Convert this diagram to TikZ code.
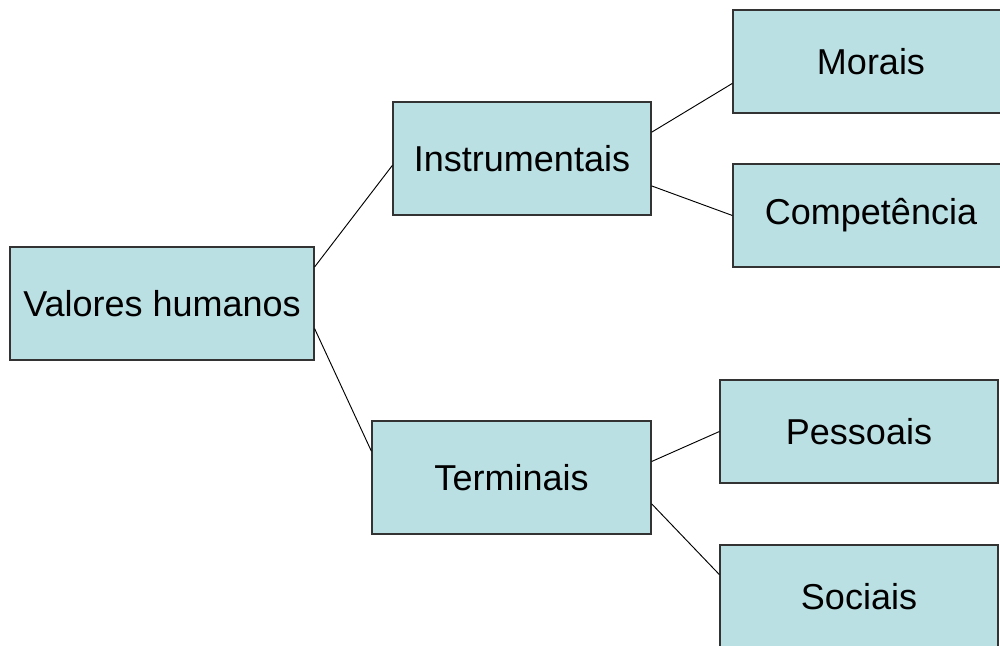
\documentclass[tikz,border=0pt]{standalone}
\usepackage{fontspec}
\setmainfont{Liberation Sans}
\usetikzlibrary{calc}
\definecolor{boxfill}{HTML}{BBE0E3}
\definecolor{boxline}{HTML}{333333}

\begin{document}
\begin{tikzpicture}[x=0.75pt,y=-0.75pt,
    valbox/.style={draw=boxline,line width=0.9pt,fill=boxfill,rectangle,inner sep=0pt,font=\fontsize{27}{32}\selectfont},
    link/.style={black,line width=0.7pt}]
        \useasboundingbox (0,0) rectangle (1000,646);
    
        \node[valbox,minimum width=228pt,minimum height=84.75pt] (valores) at (162,303.5) {Valores humanos};
    
        \node[valbox,minimum width=193.5pt,minimum height=84.75pt] (instr) at (522,158.5) {Instrumentais};
        \node[valbox,minimum width=209.25pt,minimum height=84.75pt] (term) at (511.5,477.5) {Terminais};
    
        \node[valbox,minimum width=207pt,minimum height=77.25pt] (morais) at (871,61.5) {Morais};
        \node[valbox,minimum width=207pt,minimum height=77.25pt] (compet) at (871,215.5) {Competência};
        \node[valbox,minimum width=208.5pt,minimum height=77.25pt] (pess) at (859,431.5) {Pessoais};
        \node[valbox,minimum width=208.5pt,minimum height=77.25pt] (soc) at (859,596.5) {Sociais};
    
        % ramos do primeiro nivel
        \draw[link] ($(valores.north east)!0.18!(valores.south east)$) -- ($(instr.north west)!0.56!(instr.south west)$);
        \draw[link] ($(valores.north east)!0.72!(valores.south east)$) -- ($(term.north west)!0.27!(term.south west)$);
    
        % ramos do segundo nivel
        \draw[link] ($(instr.north east)!0.27!(instr.south east)$) -- ($(morais.north west)!0.71!(morais.south west)$);
        \draw[link] ($(instr.north east)!0.74!(instr.south east)$) -- (compet.west);
        \draw[link] ($(term.north east)!0.36!(term.south east)$) -- (pess.west);
        \draw[link] ($(term.north east)!0.73!(term.south east)$) -- ($(soc.north west)!0.29!(soc.south west)$);
    \end{tikzpicture}
\end{document}
